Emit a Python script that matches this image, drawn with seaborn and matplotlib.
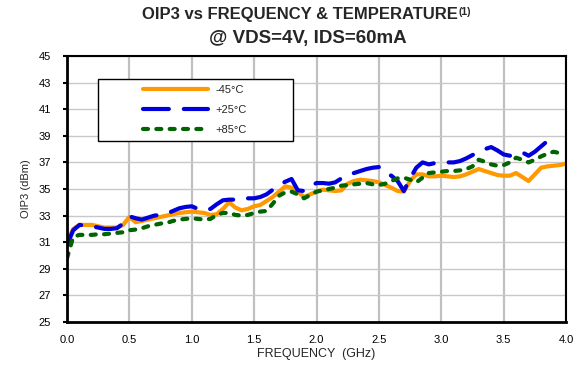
import numpy as np
import pandas as pd
import matplotlib
matplotlib.use("Agg")
import matplotlib.pyplot as plt
from matplotlib.patches import Rectangle
import seaborn as sns

freq = [round(i * 0.05, 2) for i in range(81)]

oip3_m45 = [31.0, 32.0, 32.3, 32.3, 32.3, 32.2, 32.1, 32.1, 32.1, 32.3,
            32.9, 32.5, 32.6, 32.7, 32.8, 32.9, 33.0, 33.1, 33.2, 33.25,
            33.3, 33.25, 33.2, 33.05, 33.1, 33.5, 34.0, 33.6, 33.4, 33.5,
            33.7, 33.8, 34.1, 34.4, 34.8, 35.2, 35.1, 34.8, 34.4, 34.6,
            34.8, 34.95, 34.9, 34.85, 34.9, 35.4, 35.6, 35.7, 35.65, 35.6,
            35.5, 35.3, 35.1, 34.85, 34.8, 35.6, 36.1, 36.1, 35.95, 35.95,
            36.0, 35.95, 35.9, 35.95, 36.1, 36.3, 36.5, 36.35, 36.2, 36.05,
            36.0, 36.0, 36.2, 35.9, 35.6, 36.1, 36.6, 36.7, 36.75, 36.8,
            36.9]

oip3_p25 = [30.8, 31.9, 32.3, 32.25, 32.2, 32.1, 32.0, 32.0, 32.05, 32.4,
            32.95, 32.8, 32.7, 32.85, 33.0, 33.05, 33.15, 33.35, 33.55, 33.65,
            33.7, 33.5, 33.4, 33.5, 33.85, 34.15, 34.2, 34.2, 34.2, 34.3,
            34.3, 34.4, 34.6, 34.95, 35.3, 35.55, 35.75, 34.9, 34.85, 35.2,
            35.45, 35.45, 35.4, 35.5, 35.8, 36.05, 36.2, 36.35, 36.5, 36.6,
            36.65, 36.2, 36.0, 35.6, 34.85, 35.8, 36.6, 37.0, 36.85, 36.95,
            37.0, 37.0, 37.0, 37.1, 37.3, 37.55, 37.8, 38.0, 38.15, 37.9,
            37.6, 37.5, 37.6, 37.75, 37.5, 37.8, 38.2, 38.6, 38.9, np.nan,
            np.nan]

oip3_p85 = [29.8, 31.4, 31.55, 31.55, 31.55, 31.6, 31.6, 31.65, 31.7, 31.75,
            31.9, 31.95, 32.05, 32.2, 32.3, 32.4, 32.45, 32.6, 32.7, 32.75,
            32.8, 32.75, 32.7, 32.75, 33.05, 33.2, 33.2, 33.05, 33.0, 33.05,
            33.2, 33.3, 33.35, 33.9, 34.5, 34.75, 34.8, 34.6, 34.3, 34.55,
            34.8, 34.9, 35.0, 35.1, 35.25, 35.3, 35.35, 35.4, 35.45, 35.35,
            35.3, 35.4, 35.6, 35.8, 35.85, 35.7, 35.5, 35.85, 36.2, 36.25,
            36.3, 36.35, 36.35, 36.4, 36.5, 36.7, 37.2, 37.05, 36.85, 36.75,
            36.8, 37.0, 37.35, 37.2, 37.0, 37.2, 37.45, 37.65, 37.8, 37.7,
            np.nan]

series_labels = ["-45°C", "+25°C", "+85°C"]
x_ticks = [0.0, 0.5, 1.0, 1.5, 2.0, 2.5, 3.0, 3.5, 4.0]
y_ticks = list(range(25, 46, 2))

sns.set_theme(style="white")
plt.rcParams['font.family'] = ['Liberation Sans', 'DejaVu Sans']

W, H = 584, 366
fig = plt.figure(figsize=(W / 100, H / 100), dpi=100)
ax_l, ax_r, ax_t, ax_b = 67, 566, 56, 322
ax = fig.add_axes([ax_l / W, 1 - ax_b / H, (ax_r - ax_l) / W, (ax_b - ax_t) / H])

styles = [
    dict(color="#FF9900", dashes=None),
    dict(color="#0000DD", dashes=(6.2, 3.6)),
    dict(color="#006400", dashes=(1.2, 2.0)),
]
for vals, lab, st in zip([oip3_m45, oip3_p25, oip3_p85], series_labels, styles):
    df = pd.DataFrame({"f": freq, "v": vals}).dropna()
    sns.lineplot(data=df, x="f", y="v", ax=ax, color=st["color"],
                 lw=3.0, label=lab, sort=False, estimator=None)
    l = ax.lines[-1]
    if st["dashes"] is not None:
        l.set_dashes(st["dashes"])
        l.set_dash_capstyle("round")
    l.set_solid_capstyle("round")
    l.set_solid_joinstyle("round")

ax.set_xlim(0, 4.0)
ax.set_ylim(25, 45)
ax.set_xticks(x_ticks)
ax.set_xticklabels([f"{t:.1f}" for t in x_ticks], fontsize=8)
ax.set_yticks(y_ticks)
ax.set_yticklabels([str(t) for t in y_ticks], fontsize=8)
ax.grid(True, axis="x", color="#c0c0c0", lw=1.6)
ax.grid(True, axis="y", color="#c8c8c8", lw=1.0)
ax.set_axisbelow(True)
ax.tick_params(axis="y", direction="out", length=3, width=1.5, left=True, pad=8.5, colors="black")
ax.tick_params(axis="x", direction="out", length=0, pad=9.5, colors="black")
for s in ["left", "bottom"]:
    ax.spines[s].set_linewidth(2.0)
for s in ["right", "top"]:
    ax.spines[s].set_linewidth(1.5)
for s in ax.spines.values():
    s.set_color("black")

ax.set_xlabel("FREQUENCY  (GHz)", fontsize=9, labelpad=2)
ax.set_ylabel("OIP3 (dBm)", fontsize=8, labelpad=5.5)

def px2ax(x, y):
    return (x - ax_l) / (ax_r - ax_l), (ax_b - y) / (ax_b - ax_t)

bx0, by0 = px2ax(98, 141)
bx1, by1 = px2ax(293, 79)
ax.add_patch(Rectangle((bx0, by0), bx1 - bx0, by1 - by0, transform=ax.transAxes,
                       facecolor="white", edgecolor="black", lw=1.0, zorder=4))
lx, ly = px2ax(143, 85)
leg = ax.legend(loc="upper left", bbox_to_anchor=(lx, ly), fontsize=8,
                frameon=False, handlelength=5.85, handletextpad=0.65,
                borderpad=0.0, labelspacing=0.9, borderaxespad=0)
leg.set_zorder(5)

# title
cx = 0.527
t1 = fig.text(cx - 0.013, 1 - 15 / H, "OIP3 vs FREQUENCY & TEMPERATURE", ha="center", va="center",
              fontsize=12, fontweight="bold")
fig.canvas.draw()
bb = t1.get_window_extent()
fig.text(bb.x1 / fig.bbox.width + 0.001, 1 - 12 / H, "(1)", ha="left", va="center",
         fontsize=7.5, fontweight="bold")
fig.text(cx, 1 - 38 / H, "@ VDS=4V, IDS=60mA", ha="center", va="center",
         fontsize=13.5, fontweight="bold")

fig.savefig("out.png", dpi=100)
